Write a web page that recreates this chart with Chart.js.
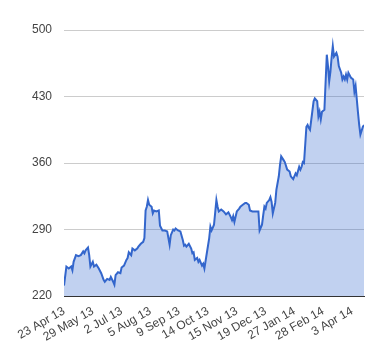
<!DOCTYPE html>
<html>

<head>
    <title>Price</title>
    <script src="https://cdn.jsdelivr.net/npm/chart.js@4/dist/chart.umd.min.js"></script>
    <style>
        body { margin: 0; background: #fff; }
        #wrap { width: 380px; height: 360px; }
    </style>
</head>

<body>
    <div id="wrap">
        <canvas id="myChart"></canvas>
    </div>
</body>
<script>
    // trading day index (0 = 23 Apr 13) and closing value
    const days = [0, 2, 4, 6, 7, 8, 10, 12, 14, 16, 17, 18, 20, 21, 22, 24, 25, 27, 29, 31,
        33, 34, 36, 38, 39, 41, 42, 43, 45, 47, 48, 50, 52, 53, 54, 56, 57, 59, 61, 62,
        64, 66, 67, 68, 69, 70, 71, 73, 74, 75, 77, 79, 80, 82, 84, 86, 88, 89, 91, 92,
        93, 95, 97, 99, 100, 101, 102, 104, 106, 107, 108, 109, 111, 112, 113, 115, 116, 117, 119, 121,
        122, 123, 124, 125, 127, 128, 129, 131, 133, 135, 137, 139, 140, 141, 142, 144, 146, 147, 149, 151,
        152, 154, 155, 157, 158, 160, 162, 163, 165, 166, 167, 168, 169, 171, 172, 173, 174, 176, 177, 179,
        180, 181, 183, 184, 186, 188, 189, 191, 193, 194, 196, 197, 198, 199, 200, 202, 203, 204, 205, 206,
        208, 209, 211, 212, 213, 214, 215, 217, 219, 220, 221, 222, 223, 224, 225, 227, 228, 229, 231, 232,
        233, 234, 235, 236, 237, 239, 241, 242, 243, 245, 246, 247, 249, 250];
    const prices = [231, 251, 249, 251, 247, 256, 263, 262, 263, 267, 265, 268, 271, 263, 251, 256, 251, 253, 249, 244,
        237, 235, 238, 237, 240, 235, 232, 242, 245, 244, 250, 252, 258, 260, 266, 263, 270, 268, 270, 272,
        275, 277, 281, 310, 314, 321, 316, 314, 307, 310, 309, 310, 294, 289, 289, 288, 274, 284, 290, 289,
        291, 289, 288, 279, 273, 274, 272, 275, 270, 265, 266, 258, 260, 256, 258, 252, 254, 249, 265, 281,
        293, 289, 292, 295, 321, 314, 309, 311, 309, 306, 308, 303, 300, 304, 298, 309, 312, 314, 316, 318,
        318, 316, 310, 309, 309, 309, 309, 289, 295, 305, 314, 312, 318, 321, 324, 319, 307, 318, 332, 346,
        358, 367, 363, 361, 353, 351, 346, 343, 349, 347, 356, 353, 356, 361, 360, 398, 400, 397, 395, 405,
        425, 428, 425, 409, 414, 406, 414, 416, 474, 462, 446, 456, 471, 483, 472, 476, 472, 462, 455, 448,
        451, 448, 453, 448, 455, 450, 448, 435, 441, 413, 400, 390, 398, 400];

    const tickDays = [0, 24, 48, 72, 96, 120, 144, 168, 192, 216, 240];
    const tickLabels = ['23 Apr 13', '29 May 13', '2 Jul 13', '5 Aug 13', '9 Sep 13', '14 Oct 13',
        '15 Nov 13', '19 Dec 13', '27 Jan 14', '28 Feb 14', '3 Apr 14'];

    const points = days.map((d, i) => ({x: d, y: prices[i]}));

    Chart.defaults.font.family = '"Liberation Sans", Arial, sans-serif';
    Chart.defaults.font.size = 12;
    Chart.defaults.color = '#444';

    const myChart = new Chart(document.getElementById('myChart'), {
        type: 'line',
        data: {
            datasets: [{
                data: points,
                borderColor: '#3366cc',
                borderWidth: 2,
                backgroundColor: 'rgba(51, 102, 204, 0.3)',
                fill: 'start',
                pointRadius: 0,
                tension: 0
            }]
        },
        options: {
            responsive: true,
            maintainAspectRatio: false,
            animation: false,
            layout: {padding: {top: 30, right: 16, left: 0, bottom: 0}},
            plugins: {legend: {display: false}, tooltip: {enabled: false}},
            scales: {
                x: {
                    type: 'linear',
                    min: 0,
                    max: 250,
                    afterBuildTicks: (scale) => {
                        scale.ticks = tickDays.map(v => ({value: v}));
                    },
                    afterFit: (scale) => { scale.height = 64; },
                    ticks: {
                        autoSkip: false,
                        minRotation: 30,
                        maxRotation: 30,
                        padding: 8,
                        callback: (v) => tickLabels[tickDays.indexOf(v)]
                    },
                    grid: {display: false, drawTicks: false},
                    border: {display: true, color: '#333', width: 1}
                },
                y: {
                    min: 220,
                    max: 500,
                    afterFit: (scale) => { scale.width = 64; },
                    ticks: {stepSize: 70, padding: 12},
                    grid: {
                        drawTicks: false,
                        color: (ctx) => ctx.tick && ctx.tick.value === 220 ? '#333' : '#ccc'
                    },
                    border: {display: false}
                }
            }
        }
    });
</script>

</html>
